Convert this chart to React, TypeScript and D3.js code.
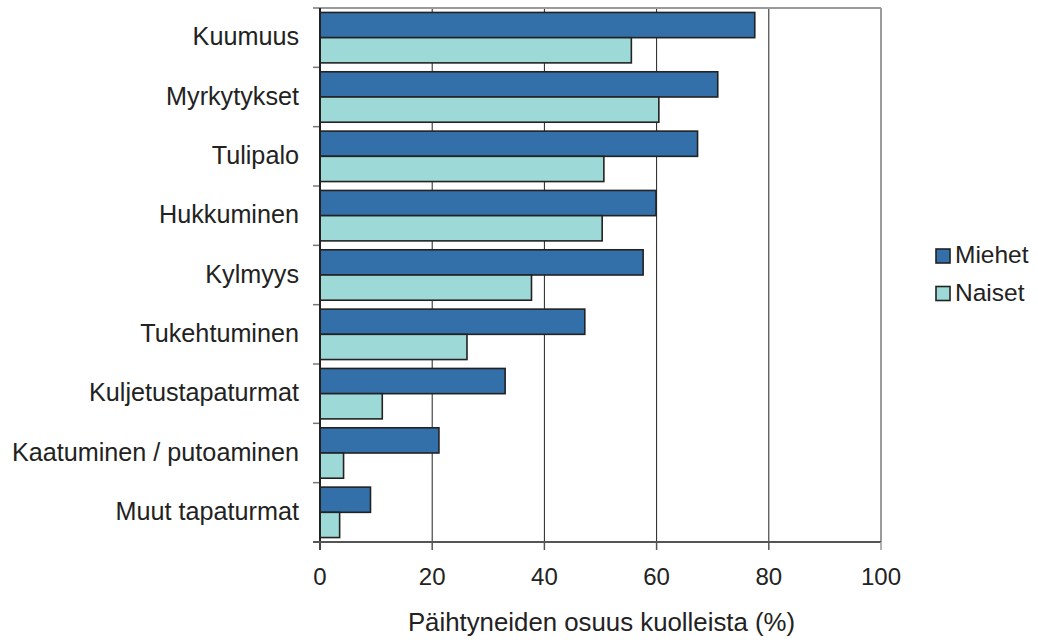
import React from 'react';
import * as d3 from 'd3';

const width = 1038;
const height = 642;
const margin = { top: 8, right: 157, bottom: 100, left: 320 };

const categories = [
  "Kuumuus",
  "Myrkytykset",
  "Tulipalo",
  "Hukkuminen",
  "Kylmyys",
  "Tukehtuminen",
  "Kuljetustapaturmat",
  "Kaatuminen / putoaminen",
  "Muut tapaturmat"
];
const seriesNames = ["Miehet", "Naiset"];
const miehet = [77.5, 70.9, 67.3, 59.9, 57.6, 47.2, 33.0, 21.2, 9.0];
const naiset = [55.5, 60.4, 50.6, 50.3, 37.7, 26.2, 11.1, 4.2, 3.5];
const xTicks = [0, 20, 40, 60, 80, 100];
const colors = ["#336fa9", "#9dd9d6"];
const font = "'Liberation Sans', Arial, sans-serif";

export default function App() {
  const plotW = width - margin.left - margin.right;
  const plotH = height - margin.top - margin.bottom;

  const x = d3.scaleLinear().domain([0, 100]).range([0, plotW]);
  const y = d3.scaleBand().domain(categories).range([0, plotH]).paddingInner(0.15).paddingOuter(0.075);
  const ySub = d3.scaleBand().domain(seriesNames).range([0, y.bandwidth()]);
  const step = plotH / categories.length;

  const series = [miehet, naiset];

  return (
    <svg width={width} height={height} style={{ position: 'absolute', left: 0, top: 0 }} fontFamily={font}>
      <g transform={'translate(' + margin.left + ',' + margin.top + ')'}>
        {/* grid */}
        {xTicks.slice(1, -1).map(t => (
          <line key={'g' + t} x1={x(t)} x2={x(t)} y1={0} y2={plotH} stroke="#222" strokeWidth={1} />
        ))}
        {/* top / right border */}
        <line x1={0} x2={plotW} y1={0} y2={0} stroke="#9a9a9a" strokeWidth={2} />
        <line x1={plotW} x2={plotW} y1={0} y2={plotH} stroke="#9a9a9a" strokeWidth={2} />

        {/* bars */}
        {categories.map((c, i) => (
          <g key={c} transform={'translate(0,' + y(c) + ')'}>
            {seriesNames.map((s, j) => (
              <rect key={s} x={0} y={ySub(s)} width={x(series[j][i])} height={ySub.bandwidth()}
                fill={colors[j]} stroke="#222" strokeWidth={1.6} />
            ))}
          </g>
        ))}

        {/* left axis */}
        {d3.range(categories.length + 1).map(i => (
          <line key={'yt' + i} x1={-7} x2={0} y1={i * step} y2={i * step} stroke="#777" strokeWidth={1.5} />
        ))}
        <line x1={0} x2={0} y1={0} y2={plotH + 8} stroke="#222" strokeWidth={2} />
        {categories.map(c => (
          <text key={'yl' + c} x={-21} y={(y(c) as number) + y.bandwidth() / 2} dy="0.3em"
            textAnchor="end" fontSize={25.2} fill="#222">{c}</text>
        ))}

        {/* bottom axis */}
        <line x1={-7} x2={plotW} y1={plotH} y2={plotH} stroke="#555" strokeWidth={2} />
        {xTicks.map(t => (
          <g key={'xt' + t} transform={'translate(' + x(t) + ',' + plotH + ')'}>
            <line y1={0} y2={8} stroke={t === 100 ? '#999' : '#555'} strokeWidth={1.5} />
            <text y={43} textAnchor="middle" fontSize={24} fill="#222">{t}</text>
          </g>
        ))}
        <text x={plotW / 2 + 1} y={plotH + 89} textAnchor="middle" fontSize={25.8} fill="#222">
          Päihtyneiden osuus kuolleista (%)
        </text>
      </g>

      {/* legend */}
      {seriesNames.map((s, j) => (
        <g key={'lg' + s} transform={'translate(936,' + (249 + j * 37.5) + ')'}>
          <rect x={0} y={0} width={14} height={14} fill={colors[j]} stroke="#222" strokeWidth={1.6} />
          <text x={19} y={14} fontSize={24.5} fill="#222">{s}</text>
        </g>
      ))}
    </svg>
  );
}
